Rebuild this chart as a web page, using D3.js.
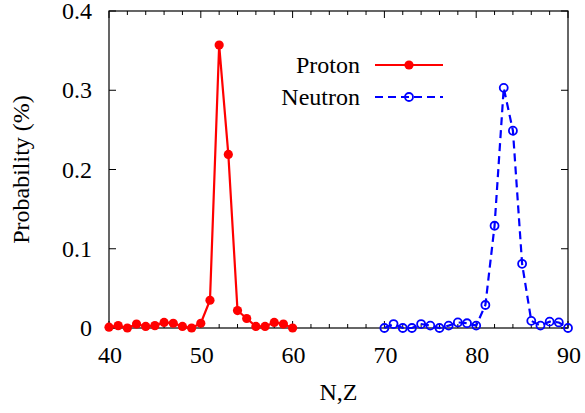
<!DOCTYPE html>
<html>
<head>
<meta charset="utf-8">
<script src="https://cdn.jsdelivr.net/npm/d3@7"></script>
<style>
  html, body { margin: 0; padding: 0; background: #fff; }
  svg text { font-family: "Liberation Serif", "Times New Roman", serif; }
</style>
</head>
<body>
<svg id="chart" width="585" height="413"></svg>
<script>
// ---- data ----
const protonZ = [40,41,42,43,44,45,46,47,48,49,50,51,52,53,54,55,56,57,58,59,60];
const protonP = [0.001,0.003,0.0,0.005,0.002,0.003,0.007,0.006,0.002,0.0,0.006,0.035,0.357,0.219,0.022,0.012,0.002,0.002,0.007,0.005,0.0];
const neutronN = [70,71,72,73,74,75,76,77,78,79,80,81,82,83,84,85,86,87,88,89,90];
const neutronP = [0.0,0.005,0.0,0.0,0.005,0.003,0.0,0.003,0.007,0.006,0.003,0.029,0.129,0.303,0.249,0.081,0.009,0.003,0.008,0.007,0.0];
const xTicks = [40,50,60,70,80,90];
const yTicks = [0,0.1,0.2,0.3,0.4];
const legendLabels = ["Proton","Neutron"];

// ---- layout ----
const FS = 24;
const svg = d3.select("#chart");
const L = 109, R = 568, T = 11, B = 328;
const x = d3.scaleLinear().domain([40,90]).range([L,R]);
const y = d3.scaleLinear().domain([0,0.4]).range([B,T]);

const g = svg.append("g");
const txt = sel => sel.style("font-family", '"Liberation Serif", "Times New Roman", serif')
  .attr("font-size", FS).attr("fill", "#000");

// ticks (inward)
const minorX = d3.range(40,90.01,2).filter(v => v % 10 !== 0);
const majLen = 7, minLen = 4;
const tickG = g.append("g").attr("stroke","#000").attr("stroke-width",1);
xTicks.forEach(v => {
  tickG.append("line").attr("x1",x(v)).attr("x2",x(v)).attr("y1",B).attr("y2",B-majLen);
  tickG.append("line").attr("x1",x(v)).attr("x2",x(v)).attr("y1",T).attr("y2",T+majLen);
});
minorX.forEach(v => {
  tickG.append("line").attr("x1",x(v)).attr("x2",x(v)).attr("y1",B).attr("y2",B-minLen);
  tickG.append("line").attr("x1",x(v)).attr("x2",x(v)).attr("y1",T).attr("y2",T+minLen);
});
yTicks.forEach(v => {
  tickG.append("line").attr("x1",L).attr("x2",L+majLen).attr("y1",y(v)).attr("y2",y(v));
  tickG.append("line").attr("x1",R).attr("x2",R-majLen).attr("y1",y(v)).attr("y2",y(v));
});

// frame
g.append("rect").attr("x",L).attr("y",T).attr("width",R-L).attr("height",B-T)
  .attr("fill","none").attr("stroke","#000").attr("stroke-width",1.2);

// tick labels
g.selectAll(".xl").data(xTicks).join("text").call(txt)
  .attr("x", d => x(d) + 1).attr("y", 363)
  .attr("text-anchor","middle").text(d => d3.format("d")(d));
g.selectAll(".yl").data(yTicks).join("text").call(txt)
  .attr("x", 92).attr("y", d => y(d) + 8)
  .attr("text-anchor","end").text(d => d === 0 ? "0" : d3.format(".1f")(d));

// axis titles
g.append("text").call(txt)
  .attr("x",(L+R)/2).attr("y",400).attr("text-anchor","middle").text("N,Z");
g.append("text").call(txt)
  .attr("transform",`translate(29,${(T+B)/2}) rotate(-90)`)
  .attr("text-anchor","middle").text("Probability (%)");

// series
const line = d3.line().x(d => x(d[0])).y(d => y(d[1]));
const pData = protonZ.map((z,i) => [z, protonP[i]]);
const nData = neutronN.map((n,i) => [n, neutronP[i]]);

g.append("path").datum(pData).attr("d",line).attr("fill","none")
  .attr("stroke","#ff0000").attr("stroke-width",2.2);
g.selectAll(".pp").data(pData).join("circle")
  .attr("cx", d => x(d[0])).attr("cy", d => y(d[1])).attr("r",4.6).attr("fill","#ff0000");

g.append("path").datum(nData).attr("d",line).attr("fill","none")
  .attr("stroke","#0000ff").attr("stroke-width",2.2).attr("stroke-dasharray","8,5");
g.selectAll(".np").data(nData).join("circle")
  .attr("cx", d => x(d[0])).attr("cy", d => y(d[1])).attr("r",4)
  .attr("fill","none").attr("stroke","#0000ff").attr("stroke-width",1.8);

// legend
const legY = [65, 97];
legendLabels.forEach((lab,i) => {
  g.append("text").call(txt)
    .attr("x",360).attr("y",legY[i]+8).attr("text-anchor","end").text(lab);
  const ln = g.append("line").attr("x1",375).attr("x2",443).attr("y1",legY[i]).attr("y2",legY[i])
    .attr("stroke-width",2.2);
  if (i === 0) {
    ln.attr("stroke","#ff0000");
    g.append("circle").attr("cx",409).attr("cy",legY[i]).attr("r",4.6).attr("fill","#ff0000");
  } else {
    ln.attr("stroke","#0000ff").attr("stroke-dasharray","8,5");
    g.append("circle").attr("cx",409).attr("cy",legY[i]).attr("r",4)
      .attr("fill","none").attr("stroke","#0000ff").attr("stroke-width",1.8);
  }
});
</script>
</body>
</html>
